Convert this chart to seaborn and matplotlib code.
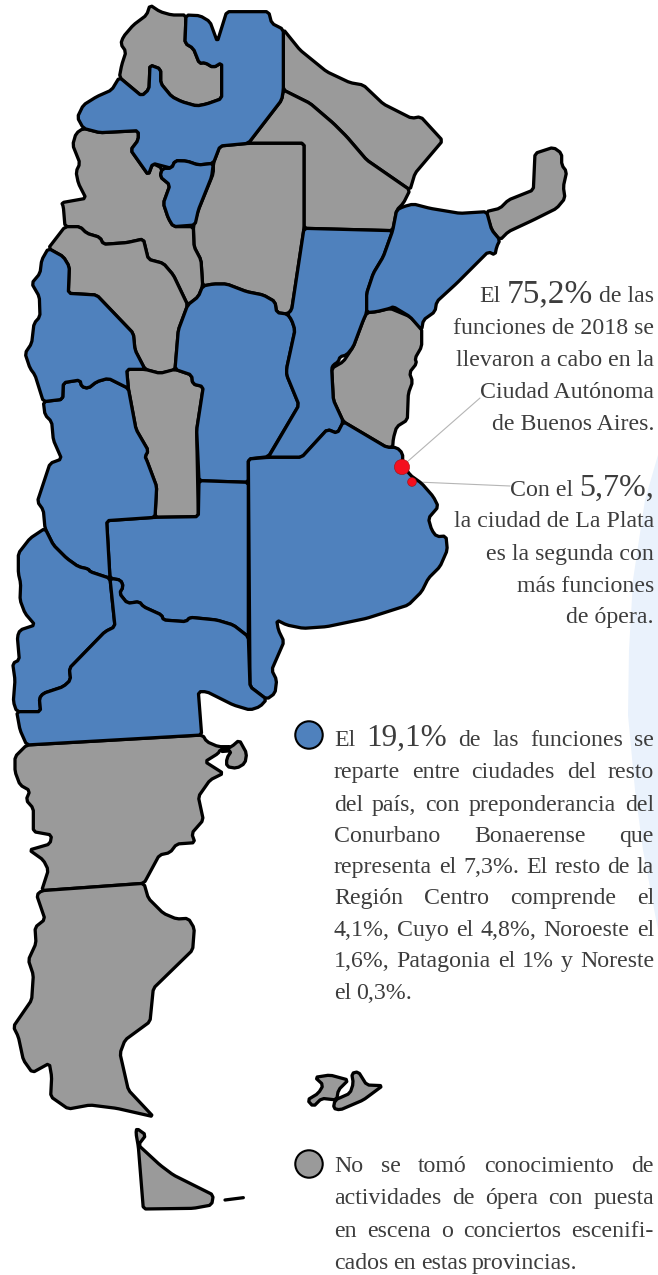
import matplotlib
matplotlib.use('Agg')
import matplotlib.pyplot as plt
import numpy as np
import seaborn as sns

sns.set_theme(style='white')
plt.rcParams['font.family'] = ['Liberation Serif', 'DejaVu Serif']

BLUE = '#4f81bd'
GRAY = '#9a9a9a'
INK = '#3d3d3d'
TXT = 17.2


# the outlines were traced on 3x crops, these bring them back to image pixels
def top(pts):
    return [(x / 3, y / 3) for x, y in pts]


def mid(pts):
    return [(x / 3, 360 + y / 3) for x, y in pts]


def low(pts):
    return [(x / 3, 720 + y / 3) for x, y in pts]


def east(pts):
    return [(380 + x / 3, 130 + y / 3) for x, y in pts]


jujuy = top([(450, 15), (440, 45), (400, 75), (370, 110), (362, 132), (378, 155), (365, 195), (358, 232), (425, 288),
             (447, 268), (450, 195), (482, 207), (482, 250), (515, 290), (545, 305), (590, 318), (620, 312), (665, 296),
             (665, 188), (640, 203), (615, 188), (598, 190), (580, 145), (555, 130), (558, 45), (515, 45), (480, 35)])
salta = top([(558, 45), (600, 47), (630, 65), (652, 125), (680, 35), (806, 35), (815, 70), (850, 88), (850, 270),
             (845, 300), (745, 430), (660, 438), (640, 490), (595, 495), (560, 483), (525, 482), (515, 505), (458, 490),
             (445, 525), (392, 450), (415, 420), (415, 392), (300, 398), (250, 385), (232, 352), (250, 315), (290, 290),
             (335, 270), (358, 232), (425, 288), (447, 268), (450, 195), (482, 207), (482, 250), (515, 290), (545, 305),
             (590, 318), (620, 312), (665, 296), (665, 188), (640, 203), (615, 188), (598, 190), (580, 145), (555, 130)])
formosa = top([(850, 88), (900, 150), (980, 215), (1050, 248), (1090, 255), (1150, 312), (1235, 355), (1262, 350),
               (1328, 422), (1245, 520), (1230, 570), (1100, 480), (1040, 410), (1000, 370), (930, 310), (850, 270)])
chaco = top([(850, 270), (930, 310), (1000, 370), (1040, 410), (1100, 480), (1230, 570), (1210, 610), (1190, 630),
             (1178, 692), (912, 685), (912, 430), (745, 430), (845, 300)])
santiago = top([(660, 438), (745, 430), (912, 430), (912, 685), (875, 930), (862, 942), (830, 938), (825, 905),
                (790, 885), (740, 875), (680, 852), (640, 852), (608, 858), (603, 780), (582, 740), (580, 680),
                (595, 630), (640, 520), (640, 490)])
tucuman = top([(525, 482), (560, 483), (595, 495), (640, 490), (635, 530), (595, 630), (585, 675), (520, 680),
               (505, 655), (490, 610), (510, 555), (480, 530), (487, 505), (515, 505)])
catamarca = top([(250, 385), (300, 398), (415, 392), (415, 420), (392, 450), (445, 525), (458, 490), (487, 505),
                 (480, 530), (510, 555), (490, 610), (505, 655), (520, 680), (580, 680), (582, 740), (603, 780),
                 (608, 858), (595, 890), (563, 915), (520, 825), (490, 790), (445, 778), (430, 717), (380, 728),
                 (310, 733), (300, 712), (260, 700), (240, 680), (195, 680), (190, 620), (185, 608), (258, 595),
                 (235, 550), (228, 515), (240, 490), (218, 435), (228, 400)])
la_rioja = top([(195, 680), (240, 680), (260, 700), (300, 712), (310, 733), (380, 728), (430, 717), (445, 778),
                (490, 790), (520, 825), (563, 915), (535, 990), (525, 1110), (480, 1120), (435, 1108), (405, 1050),
                (400, 1000), (290, 885), (205, 880), (208, 800), (190, 770), (145, 745)])
san_juan = top([(145, 745), (190, 770), (208, 800), (205, 880), (290, 885), (400, 1000), (405, 1050), (435, 1108),
                (380, 1108), (385, 1165), (325, 1135), (290, 1145), (265, 1165), (245, 1160), (240, 1140), (190, 1148),
                (188, 1198), (130, 1205), (105, 1125), (90, 1105), (75, 1060), (95, 1030), (102, 970), (120, 950),
                (118, 890), (95, 850), (120, 820), (125, 780)])
san_luis = mid([(380, 28), (435, 28), (480, 40), (525, 28), (575, 45), (578, 72), (610, 80), (590, 210), (595, 470),
                (465, 472), (470, 380), (440, 300), (435, 290), (445, 272), (408, 208), (385, 85)])
cordoba = top([(563, 915), (595, 890), (608, 858), (640, 852), (680, 852), (740, 875), (790, 885), (825, 905),
               (830, 938), (862, 942), (875, 960), (885, 990), (860, 1105)]) + \
    mid([(860, 45), (897, 135), (805, 290), (745, 297), (745, 367), (597, 362), (590, 210), (610, 80), (578, 72),
         (575, 45), (525, 28)]) + top([(535, 990)])
santa_fe = top([(912, 685), (1178, 692), (1150, 770), (1120, 820), (1100, 880), (1100, 938), (1090, 960), (1060, 1040),
                (1040, 1065), (1020, 1070), (1015, 1085), (1000, 1095)]) + \
    mid([(995, 25), (1000, 120), (1030, 185), (1012, 220), (982, 208), (905, 292), (805, 292), (897, 135), (860, 45),
         (860, 25)]) + top([(885, 990), (875, 960), (862, 942), (875, 930)])
corrientes = top([(1190, 630), (1210, 620), (1240, 612), (1290, 625), (1380, 640)]) + \
    east([(320, 245), (335, 300), (360, 330), (350, 350), (345, 375), (325, 365), (280, 410), (230, 460), (170, 515),
          (165, 545), (130, 570), (125, 600), (90, 560), (40, 530)]) + \
    top([(1170, 925), (1130, 935), (1100, 938), (1100, 880), (1120, 820), (1150, 770), (1178, 692)])
misiones = east([(318, 245), (360, 235), (385, 210), (460, 180), (465, 70), (520, 52), (545, 70), (545, 105),
                 (560, 125), (550, 170), (555, 205), (530, 235), (460, 270), (385, 305), (360, 330), (335, 300)])
entre_rios = top([(1100, 938), (1130, 935), (1170, 925), (1230, 950), (1265, 985), (1265, 1040), (1245, 1075)]) + \
    mid([(1250, 10), (1228, 38), (1238, 65), (1225, 100), (1222, 180), (1190, 200), (1180, 235), (1178, 262),
         (1160, 262), (1030, 185), (1000, 120), (995, 25), (1030, 5)]) + \
    top([(1060, 1040), (1090, 960)])
buenos_aires = mid([(1030, 185), (1160, 262), (1190, 262), (1208, 280), (1208, 310), (1230, 345), (1265, 370),
                    (1300, 410), (1315, 440), (1285, 475), (1295, 510), (1310, 530), (1338, 528), (1342, 570),
                    (1320, 620), (1285, 655), (1265, 695), (1225, 735), (1100, 775), (980, 800), (910, 805), (860, 795),
                    (830, 780), (835, 810), (852, 845), (815, 930), (830, 960), (825, 1000), (800, 1018), (750, 980),
                    (745, 297), (805, 292), (905, 292), (982, 208), (1012, 220)])
la_pampa = mid([(320, 482), (465, 472), (595, 470), (597, 362), (745, 367), (745, 830), (700, 795), (650, 780),
                (570, 772), (558, 785), (490, 780), (485, 765), (430, 740), (418, 725), (382, 730), (358, 700),
                (370, 680), (362, 660), (330, 655)])
mendoza = mid([(130, 125), (188, 118), (190, 68), (240, 60), (245, 80), (265, 85), (290, 65), (325, 55), (385, 85),
               (408, 208), (445, 272), (435, 290), (440, 300), (470, 380), (465, 472), (320, 482), (330, 655),
               (270, 635), (265, 627), (235, 620), (200, 595), (160, 555), (135, 505), (130, 450), (112, 425),
               (150, 310), (185, 297), (160, 240), (155, 185), (135, 165)])
neuquen = mid([(135, 505), (160, 555), (200, 595), (235, 620), (265, 627), (270, 635), (330, 655), (345, 800),
               (315, 815), (208, 925), (212, 960), (190, 980), (130, 1000), (118, 1015), (122, 1055), (50, 1055),
               (40, 1025), (45, 960), (38, 910), (58, 900), (52, 830), (60, 810), (105, 795), (75, 760), (60, 720),
               (62, 670), (55, 640), (55, 580), (90, 535)])
rio_negro = mid([(345, 800), (330, 655), (362, 660), (370, 680), (358, 700), (382, 730), (418, 725), (430, 740),
                 (485, 765), (490, 780), (558, 785), (570, 772), (650, 780), (700, 795), (745, 830), (750, 980),
                 (800, 1018), (780, 1040), (750, 1050), (700, 1035), (620, 995), (595, 995), (605, 1125), (80, 1155),
                 (60, 1110), (50, 1055), (122, 1055), (118, 1015), (130, 1000), (190, 980), (212, 960), (208, 925),
                 (315, 815)])
chubut = low([(80, 75), (608, 45), (620, 65), (655, 80), (695, 80), (660, 90), (655, 100), (615, 125), (670, 160),
              (630, 180), (595, 230), (610, 300), (575, 340), (585, 368), (530, 372), (510, 398), (478, 405),
              (432, 490), (125, 512), (145, 450), (130, 420), (88, 390), (150, 372), (155, 345), (100, 335), (100, 265),
              (78, 240), (90, 212), (60, 195), (45, 155), (45, 110)])
valdes = low([(660, 95), (695, 80), (718, 60), (740, 100), (735, 130), (710, 145), (680, 140), (680, 115), (695, 92)])
santa_cruz = low([(125, 512), (432, 490), (445, 535), (490, 580), (530, 597), (565, 595), (583, 625), (578, 690),
                  (460, 805), (450, 905), (375, 960), (360, 1000), (385, 1110), (460, 1190), (350, 1165), (270, 1155),
                  (205, 1167), (152, 1130), (155, 1070), (148, 1030), (97, 1058), (70, 1020), (55, 950), (40, 920),
                  (95, 840), (100, 765), (85, 720), (108, 670), (105, 622), (135, 598), (110, 525)])
tierra_fuego = low([(410, 1225), (438, 1245), (415, 1275), (480, 1335), (520, 1365), (640, 1425), (635, 1455),
                    (580, 1465), (430, 1467), (415, 1280), (408, 1240)])
malvinas_w = low([(945, 1072), (990, 1065), (1045, 1080), (1015, 1110), (1010, 1140), (965, 1135), (940, 1160),
                  (922, 1140), (955, 1120), (970, 1095)])
malvinas_e = low([(1055, 1060), (1075, 1055), (1100, 1095), (1148, 1097), (1090, 1140), (1020, 1170), (1000, 1165),
                  (1005, 1140), (1050, 1120), (1060, 1090)])
isla_dash = low([(675, 1440), (730, 1433)])

blue_provs = [salta, tucuman, cordoba, santa_fe, corrientes, buenos_aires, la_pampa, mendoza, neuquen, rio_negro,
              san_juan]
gray_provs = [jujuy, formosa, chaco, santiago, catamarca, la_rioja, san_luis, misiones, entre_rios, chubut, valdes,
              santa_cruz, tierra_fuego, malvinas_w, malvinas_e]
pale_edge = [(658, 455), (645, 500), (633, 580), (629, 650), (628, 715), (635, 790), (643, 850), (658, 930)]

ciudades_x = [402, 412]
ciudades_y = [467, 482]
ciudades_s = [120, 40]
leyenda_x = [309, 309]
leyenda_y = [735, 1164]
leyenda_c = [BLUE, GRAY]

# (text, size) runs per line, y is the baseline
bloque_1 = [(302, [('El', TXT), ('75,2%', 24), ('de las', TXT)]),
            (334, [('funciones de 2018 se', TXT)]),
            (366, [('llevaron a cabo en la', TXT)]),
            (398, [('Ciudad Autónoma', TXT)]),
            (430, [('de Buenos Aires.', TXT)])]
bloque_2 = [(496, [('Con el', TXT), ('5,7%,', 23)]),
            (527, [('la ciudad de La Plata', TXT)]),
            (560, [('es la segunda con', TXT)]),
            (592, [('más funciones', TXT)]),
            (623, [('de ópera.', TXT)])]
bloque_3 = [(746, 'El|19,1%|de|las|funciones|se', True),
            (778, 'reparte|entre|ciudades|del|resto', True),
            (811, 'del|país,|con|preponderancia|del', True),
            (842, 'Conurbano|Bonaerense|que', True),
            (873, 'representa|el|7,3%.|El|resto|de|la', True),
            (904, 'Región|Centro|comprende|el', True),
            (936, '4,1%,|Cuyo|el|4,8%,|Noroeste|el', True),
            (967, '1,6%,|Patagonia|el|1%|y|Noreste', True),
            (999, 'el|0,3%.', False),
            (1172, 'No|se|tomó|conocimiento|de', True),
            (1204, 'actividades|de|ópera|con|puesta', True),
            (1237, 'en|escena|o|conciertos|escenifi-', True),
            (1269, 'cados|en|estas|provincias.', False)]


# takes the hard corners off, the original outlines are hand drawn curves
def redondea(pts, corte=2.2):
    pts = np.array(pts, dtype=float)
    out = []
    for i in range(len(pts)):
        a, b = pts[i], pts[(i + 1) % len(pts)]
        d = np.linalg.norm(b - a)
        c = min(0.25, corte / d) if d > 0 else 0
        out.append(a + (b - a) * c)
        out.append(b - (b - a) * c)
    return np.array(out)


fig = plt.figure(figsize=(6.58, 12.75), dpi=100)
ax = fig.add_axes([0, 0, 1, 1])
ax.set_xlim(0, 658)
ax.set_ylim(1275, 0)
ax.axis('off')

ax.fill(*zip(*pale_edge), color='#eaf2fc', lw=0, zorder=0)

for prov in gray_provs:
    r = redondea(prov)
    ax.fill(r[:, 0], r[:, 1], facecolor=GRAY, edgecolor='black', lw=2.35, joinstyle='round', zorder=2)
for prov in blue_provs:
    r = redondea(prov)
    ax.fill(r[:, 0], r[:, 1], facecolor=BLUE, edgecolor='black', lw=2.35, joinstyle='round', zorder=2)
ax.plot(*zip(*isla_dash), color='black', lw=2.35, zorder=2)

ax.plot([407, 480], [462, 398], color='#b5b5b5', lw=0.8, zorder=1)
ax.plot([417, 510], [482, 486], color='#b5b5b5', lw=0.8, zorder=1)

sns.scatterplot(x=ciudades_x, y=ciudades_y, s=ciudades_s, color='#f40f1e', edgecolor='#a01010', linewidth=0.4,
                ax=ax, zorder=4, legend=False)
sns.scatterplot(x=leyenda_x, y=leyenda_y, hue=leyenda_c, palette={BLUE: BLUE, GRAY: GRAY}, s=390, edgecolor='black',
                linewidth=1.5, ax=ax, zorder=4, legend=False)

rend = fig.canvas.get_renderer()


def ancho(t):
    return t.get_window_extent(rend).width


def linea_derecha(y, runs, right=654, gap=6):
    x = right
    for txt, size in reversed(runs):
        t = ax.text(x, y, txt, fontsize=size, color=INK, ha='right', va='baseline')
        x -= ancho(t) + gap


def linea_justa(y, linea, justa, left=334, right=654):
    piezas = []
    for w in linea.split('|'):
        size = 22.5 if w == '19,1%' else TXT
        piezas.append(ax.text(left, y, w, fontsize=size, color=INK, ha='left', va='baseline'))
    total = sum(ancho(t) for t in piezas)
    gap = (right - left - total) / (len(piezas) - 1) if justa else 5
    x = left
    for t in piezas:
        t.set_x(x)
        x += ancho(t) + gap


for y, runs in bloque_1 + bloque_2:
    linea_derecha(y, runs)
for y, linea, justa in bloque_3:
    linea_justa(y, linea, justa)

fig.savefig('out.png', dpi=100, facecolor='white')
